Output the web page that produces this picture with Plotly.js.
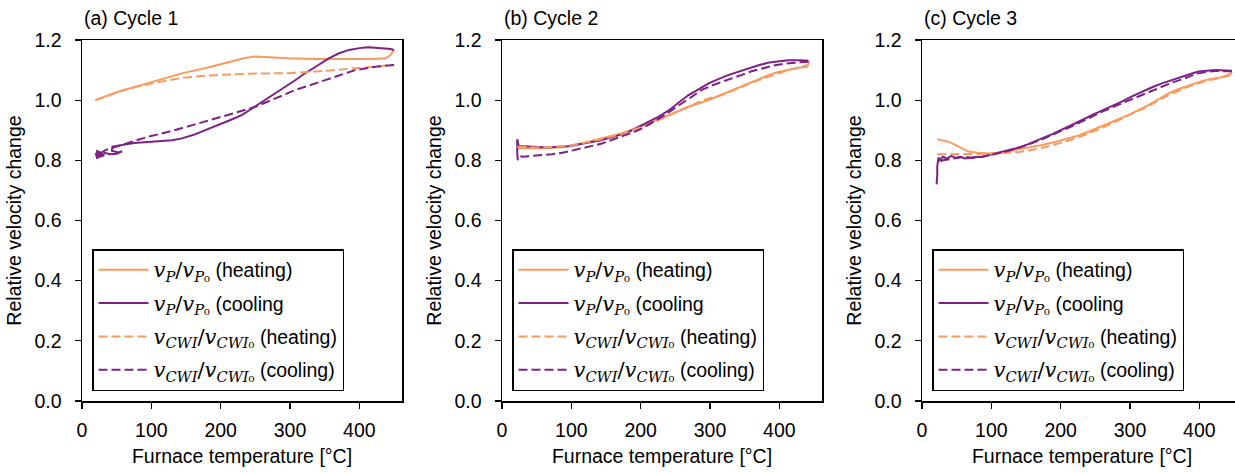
<!DOCTYPE html>
<html>
<head>
<meta charset="utf-8">
<script src="https://cdn.plot.ly/plotly-3.0.1.min.js"></script>
<style>
html,body{margin:0;padding:0;overflow:hidden;background:#fff;}
#plot{width:1250px;height:473px;}
</style>
</head>
<body>
<div id="plot"></div>
<script>
// ---------- data (temperature °C, relative velocity) ----------
// Panel (a) Cycle 1
const a_pHeat_x = [19,30,48,70,96,120,144,180,212,235,250,275,298,337,365,394,420,438,445,450];
const a_pHeat_y = [1.0,1.01,1.025,1.04,1.058,1.073,1.089,1.108,1.128,1.14,1.145,1.142,1.139,1.137,1.136,1.137,1.137,1.139,1.15,1.167];
const a_pCool_x = [450,445,437,425,413,400,385,370,356,337,320,308,290,279,265,250,231,215,202,185,173,160,144,130,115,100,87,75,62,52,44,43,52,58,50,40,33,28,25,23,22,21,20,22,24,26,28,30,32];
const a_pCool_y = [1.167,1.17,1.172,1.175,1.176,1.173,1.167,1.155,1.139,1.111,1.087,1.067,1.04,1.023,1.0,0.978,0.951,0.935,0.923,0.906,0.895,0.884,0.873,0.867,0.864,0.862,0.862,0.858,0.853,0.848,0.846,0.832,0.826,0.83,0.822,0.82,0.825,0.815,0.83,0.808,0.835,0.812,0.825,0.805,0.83,0.81,0.822,0.815,0.82];
const a_cwiHeat_x = [19,35,58,80,110,144,180,212,240,270,300,337,365,394,420,450];
const a_cwiHeat_y = [1.0,1.012,1.032,1.045,1.06,1.074,1.082,1.086,1.088,1.089,1.09,1.095,1.1,1.106,1.111,1.117];
const a_cwiCool_x = [450,423,394,365,337,308,279,250,221,192,159,125,96,72,53,34,22];
const a_cwiCool_y = [1.117,1.111,1.1,1.078,1.056,1.034,1.006,0.978,0.958,0.94,0.917,0.895,0.879,0.862,0.848,0.834,0.818];

// Panel (b) Cycle 2
const b_pHeat_x = [22,40,58,77,96,115,135,154,173,192,212,226,240,255,269,284,298,312,327,341,356,370,385,399,413,427,440,443];
const b_pHeat_y = [0.84,0.84,0.84,0.843,0.847,0.856,0.867,0.878,0.89,0.905,0.923,0.936,0.95,0.964,0.978,0.989,1.0,1.014,1.028,1.042,1.056,1.07,1.084,1.094,1.102,1.108,1.111,1.128];
const b_pCool_x = [442,430,413,400,385,370,356,340,327,312,298,284,269,255,240,226,212,198,183,168,154,140,125,110,96,82,67,52,38,30,24,23,22,22,23];
const b_pCool_y = [1.131,1.133,1.133,1.13,1.125,1.116,1.106,1.095,1.084,1.07,1.056,1.037,1.017,0.992,0.965,0.945,0.928,0.911,0.895,0.883,0.873,0.865,0.859,0.852,0.847,0.845,0.843,0.844,0.845,0.846,0.848,0.86,0.87,0.82,0.80];
const b_cwiHeat_x = [22,58,96,135,173,212,240,269,288,302,317,331,346,360,375,385,399,413,427,442];
const b_cwiHeat_y = [0.845,0.842,0.848,0.866,0.888,0.92,0.948,0.978,0.998,1.008,1.017,1.03,1.045,1.058,1.07,1.078,1.089,1.1,1.108,1.117];
const b_cwiCool_x = [442,425,409,392,375,360,346,331,317,302,288,274,260,245,231,216,202,188,173,158,144,130,115,100,87,72,58,44,29,23];
const b_cwiCool_y = [1.128,1.126,1.122,1.115,1.106,1.096,1.084,1.073,1.061,1.048,1.034,1.012,0.989,0.967,0.945,0.925,0.906,0.892,0.879,0.867,0.856,0.848,0.84,0.832,0.825,0.82,0.818,0.815,0.812,0.818];

// Panel (c) Cycle 3
const c_pHeat_x = [22,30,38,45,53,60,67,80,96,115,135,154,173,192,212,226,240,255,269,284,298,312,327,341,356,370,385,399,413,427,442,447];
const c_pHeat_y = [0.87,0.866,0.862,0.855,0.845,0.836,0.829,0.825,0.823,0.826,0.834,0.842,0.851,0.861,0.873,0.883,0.895,0.909,0.923,0.937,0.951,0.967,0.984,1.003,1.023,1.037,1.05,1.06,1.069,1.075,1.08,1.095];
const c_pCool_x = [447,435,423,411,399,387,375,360,346,331,317,302,288,274,260,245,231,216,202,188,173,158,144,130,115,101,87,75,62,55,48,42,36,30,26,24,23,22,22,21];
const c_pCool_y = [1.098,1.1,1.1,1.098,1.095,1.087,1.078,1.067,1.056,1.042,1.028,1.012,0.995,0.981,0.967,0.95,0.934,0.918,0.901,0.887,0.873,0.859,0.845,0.837,0.829,0.82,0.812,0.81,0.806,0.812,0.808,0.815,0.806,0.812,0.8,0.81,0.79,0.78,0.75,0.72];
const c_cwiHeat_x = [22,40,60,80,100,120,140,160,180,200,230,260,290,320,350,380,410,430,447];
const c_cwiHeat_y = [0.82,0.82,0.82,0.821,0.822,0.824,0.828,0.835,0.845,0.858,0.88,0.908,0.94,0.973,1.01,1.042,1.064,1.074,1.09];
const c_cwiCool_x = [447,435,423,411,399,387,375,360,346,331,317,302,288,274,260,245,231,216,202,188,173,158,144,130,115,100,87,72,60,45,30,22];
const c_cwiCool_y = [1.096,1.097,1.097,1.094,1.089,1.08,1.069,1.058,1.045,1.031,1.017,1.003,0.989,0.976,0.962,0.945,0.928,0.913,0.899,0.884,0.87,0.857,0.845,0.835,0.826,0.818,0.812,0.808,0.812,0.806,0.8,0.79];

const panelTitles = ["(a) Cycle 1", "(b) Cycle 2", "(c) Cycle 3"];
const xTicks = [0, 100, 200, 300, 400];
const yTicks = [0.0, 0.2, 0.4, 0.6, 0.8, 1.0, 1.2];
const yTickText = ["0.0","0.2","0.4","0.6","0.8","1.0","1.2"];
const xTitle = "Furnace temperature [°C]";
const yTitle = "Relative velocity change";

const M = '<span style="font-family:DejaVu Serif;font-size:21px">';
const seriesNames = [
  M + '<i>v</i><sub><i>P</i></sub>/<i>v</i><sub><i>P</i>₀</sub></span> (heating)',
  M + '<i>v</i><sub><i>P</i></sub>/<i>v</i><sub><i>P</i>₀</sub></span> (cooling',
  M + '<i>v</i><sub><i>CWI</i></sub>/<i>v</i><sub><i>CWI</i>₀</sub></span> (heating)',
  M + '<i>v</i><sub><i>CWI</i></sub>/<i>v</i><sub><i>CWI</i>₀</sub></span> (cooling)'
];

// ---------- styling ----------
const ORANGE = "#f99a5e";
const PURPLE = "#7d2185";
const W = 1250, H = 473;
const FS = 19.5;
const FONT = "Liberation Sans, Arial, sans-serif";

const panels = [
  [a_pHeat_x,a_pHeat_y,a_pCool_x,a_pCool_y,a_cwiHeat_x,a_cwiHeat_y,a_cwiCool_x,a_cwiCool_y],
  [b_pHeat_x,b_pHeat_y,b_pCool_x,b_pCool_y,b_cwiHeat_x,b_cwiHeat_y,b_cwiCool_x,b_cwiCool_y],
  [c_pHeat_x,c_pHeat_y,c_pCool_x,c_pCool_y,c_cwiHeat_x,c_cwiHeat_y,c_cwiCool_x,c_cwiCool_y]
];
const styles = [
  {color: ORANGE, dash: "solid"},
  {color: PURPLE, dash: "solid"},
  {color: ORANGE, dash: "9px,4px"},
  {color: PURPLE, dash: "9px,4px"}
];
const leftPx = [82, 502, 922];
const plotW = 320, topPx = 40, botPx = 401;

const traces = [];
const layout = {
  width: W, height: H,
  margin: {l:0, r:0, t:0, b:0},
  paper_bgcolor: "#fff", plot_bgcolor: "#fff",
  font: {family: FONT, size: FS, color: "#000"},
  showlegend: true,
  annotations: []
};

panels.forEach((p, i) => {
  const sfx = i === 0 ? "" : String(i + 1);
  const legName = "legend" + sfx;
  for (let k = 0; k < 4; k++) {
    traces.push({
      x: p[2*k], y: p[2*k+1],
      type: "scatter", mode: "lines",
      name: seriesNames[k],
      legend: legName,
      legendgroup: "g" + i + "_" + k,
      xaxis: "x" + sfx, yaxis: "y" + sfx,
      line: {color: styles[k].color, width: 2, dash: styles[k].dash},
      hoverinfo: "skip"
    });
  }
  const dom = [leftPx[i] / W, (leftPx[i] + plotW) / W];
  layout["xaxis" + sfx] = {
    domain: dom, range: [0, 461.5], anchor: "y" + sfx,
    tickvals: xTicks, ticks: "outside", ticklen: 6, tickwidth: 1.3, tickcolor: "#000",
    ticklabelstandoff: 5,
    showline: true, linecolor: "#000", linewidth: 1.5, mirror: true,
    showgrid: false, zeroline: false, fixedrange: true,
    tickfont: {size: FS, family: FONT, color: "#000"},
    title: {text: xTitle, font: {size: FS, family: FONT, color: "#000"}, standoff: 9}
  };
  layout["yaxis" + sfx] = {
    domain: [(H - botPx) / H, (H - topPx) / H], range: [0, 1.2], anchor: "x" + sfx,
    tickvals: yTicks, ticktext: yTickText, ticks: "outside", ticklen: 6, tickwidth: 1.3, tickcolor: "#000",
    ticklabelstandoff: 9,
    showline: true, linecolor: "#000", linewidth: 1.5, mirror: true,
    showgrid: false, zeroline: false, fixedrange: true,
    tickfont: {size: FS, family: FONT, color: "#000"},
    title: {text: yTitle, font: {size: FS, family: FONT, color: "#000"}, standoff: 7}
  };
  layout[legName] = {
    x: (leftPx[i] + 10) / W, xanchor: "left",
    y: (H - botPx + 10) / H, yanchor: "bottom",
    bgcolor: "#fff", bordercolor: "#000", borderwidth: 1.5,
    font: {size: FS, family: FONT, color: "#000"},
    itemwidth: 50,
    tracegroupgap: 5, itemclick: false, itemdoubleclick: false
  };
  layout.annotations.push({
    text: panelTitles[i], xref: "paper", yref: "paper",
    x: leftPx[i] / W, xanchor: "left", y: (H - 18) / H, yanchor: "middle",
    showarrow: false, font: {size: FS, family: FONT, color: "#000"}
  });
});

Plotly.newPlot("plot", traces, layout, {staticPlot: true, displayModeBar: false});
</script>
</body>
</html>
